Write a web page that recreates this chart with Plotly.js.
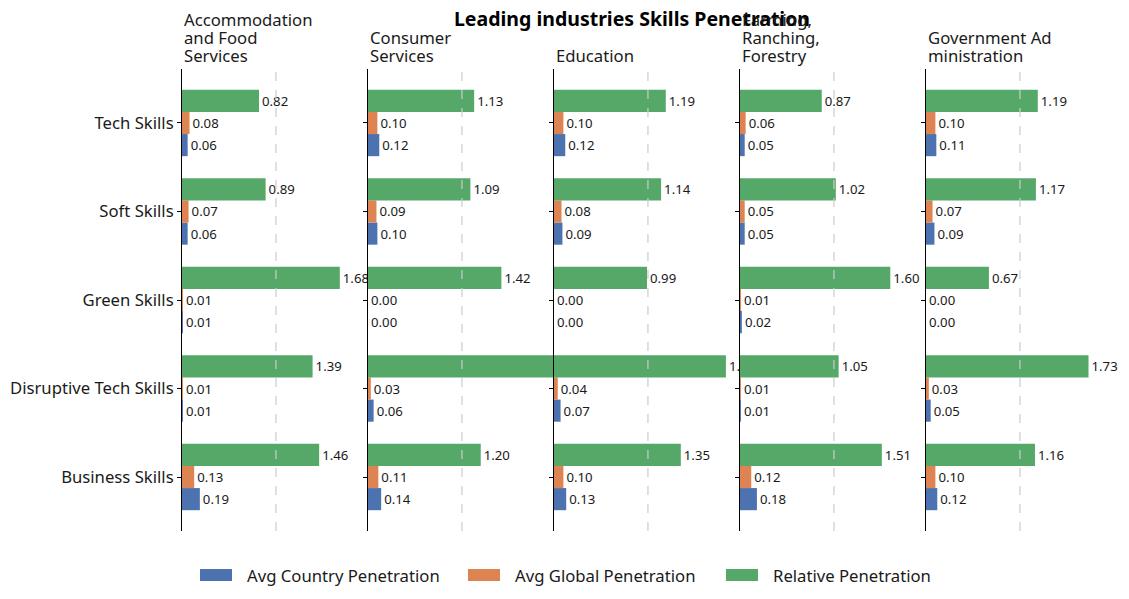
<!DOCTYPE html>
<html>
<head>
<meta charset="utf-8">
<script src="https://cdn.plot.ly/plotly-3.0.1.min.js"></script>
<style>html,body{margin:0;padding:0;background:#fff;}#chart{width:1129px;height:599px;}</style>
</head>
<body>
<div id="chart"></div>
<script>
const categories = ['Tech Skills', 'Soft Skills', 'Green Skills', 'Disruptive Tech Skills', 'Business Skills'];
const industries = ['Accommodation<br>and Food<br>Services', 'Consumer<br>Services', 'Education', 'Farming,<br>Ranching,<br>Forestry', 'Government Ad<br>ministration'];
const seriesNames = ['Avg Country Penetration', 'Avg Global Penetration', 'Relative Penetration'];
const seriesColors = ['#4c72b0', '#dd8452', '#55a868'];

// values per industry, in category order
const avgCountry = [
  [0.06, 0.06, 0.01, 0.01, 0.19],
  [0.12, 0.10, 0.00, 0.06, 0.14],
  [0.12, 0.09, 0.00, 0.07, 0.13],
  [0.05, 0.05, 0.02, 0.01, 0.18],
  [0.11, 0.09, 0.00, 0.05, 0.12]
];
const avgGlobal = [
  [0.08, 0.07, 0.01, 0.01, 0.13],
  [0.10, 0.09, 0.00, 0.03, 0.11],
  [0.10, 0.08, 0.00, 0.04, 0.10],
  [0.06, 0.05, 0.01, 0.01, 0.12],
  [0.10, 0.07, 0.00, 0.03, 0.10]
];
const relative = [
  [0.82, 0.89, 1.68, 1.39, 1.46],
  [1.13, 1.09, 1.42, 2.20, 1.20],
  [1.19, 1.14, 0.99, 1.83, 1.35],
  [0.87, 1.02, 1.60, 1.05, 1.51],
  [1.19, 1.17, 0.67, 1.73, 1.16]
];
const xMax = 1.98;
const refLine = 1.0;

const FONT = 'Noto Sans, Open Sans, sans-serif';
const TXT = '#1a1a1a';
const series = [avgCountry, avgGlobal, relative];
const traces = [];
const L = 182, R = 17, T = 69, B = 68, W = 1129, H = 599;
const plotW = W - L - R, plotH = H - T - B;
const px2x = p => (p - L) / plotW;
const px2y = p => (H - B - p) / plotH;

const layout = {
  width: W, height: H,
  margin: {l: L, r: R, t: T, b: B},
  paper_bgcolor: '#fff', plot_bgcolor: 'rgba(0,0,0,0)',
  font: {family: FONT, color: TXT, size: 13},
  barmode: 'group', bargap: 0.25, bargroupgap: 0,
  title: {text: '<b>Leading industries Skills Penetration</b>', x: 632 / W, xref: 'container', xanchor: 'center',
          y: 1 - 19 / H, yref: 'container', yanchor: 'middle', font: {size: 19.5, family: FONT, color: '#000', weight: 'bold'}},
  showlegend: false,
  annotations: [], shapes: []
};

const n = industries.length;
const titleLastLine = 56, titleLinePitch = 18.5;
industries.forEach((ind, i) => {
  const sfx = i === 0 ? '' : String(i + 1);
  const d0 = i / n, d1 = (i + 1) / n;
  layout['xaxis' + sfx] = {domain: [d0, d1], range: [0, xMax], anchor: 'y' + sfx,
    showgrid: false, zeroline: false, showline: false, showticklabels: false, ticks: ''};
  layout['yaxis' + sfx] = {anchor: 'x' + sfx, type: 'category', categoryorder: 'array',
    categoryarray: categories.slice().reverse(), range: [-0.61, categories.length - 0.39],
    showline: true, linecolor: '#000', linewidth: 1, showgrid: false, zeroline: false,
    ticks: 'outside', ticklen: 4, tickcolor: '#000', showticklabels: i === 0,
    tickfont: {size: 16.7, family: FONT, color: TXT}};
  series.forEach((s, k) => {
    traces.push({
      type: 'bar', orientation: 'h', name: seriesNames[k],
      x: s[i], y: categories, xaxis: 'x' + sfx, yaxis: 'y' + sfx,
      marker: {color: seriesColors[k], line: {width: 0}},
      texttemplate: '%{x:.2f}', textposition: 'outside', cliponaxis: i < n - 1, constraintext: 'none',
      textfont: {size: 13.2, family: FONT, color: TXT}, hoverinfo: 'x+y'
    });
  });
  layout.shapes.push({type: 'line', xref: 'x' + sfx, yref: 'y' + sfx + ' domain', x0: refLine, x1: refLine, y0: 0, y1: 1,
    line: {color: '#cccccc', width: 1.2, dash: 'dash'}, layer: 'above'});
  const lines = ind.split('<br>');
  lines.forEach((ln, j) => {
    const yPix = titleLastLine - (lines.length - 1 - j) * titleLinePitch;
    layout.annotations.push({text: ln, xref: 'paper', yref: 'paper', x: d0, y: px2y(yPix), xanchor: 'left', yanchor: 'middle',
      xshift: 0, align: 'left', showarrow: false, font: {size: 16.7, family: FONT, color: TXT}});
  });
});

// manual legend (wide patches like the reference)
const legendX = [200, 468, 726];
const legendY = 575;
seriesNames.forEach((name, k) => {
  layout.shapes.push({type: 'rect', xref: 'paper', yref: 'paper',
    x0: px2x(legendX[k]), x1: px2x(legendX[k] + 32), y0: px2y(legendY + 6), y1: px2y(legendY - 6),
    fillcolor: seriesColors[k], line: {width: 0}, layer: 'above'});
  layout.annotations.push({text: name, xref: 'paper', yref: 'paper', x: px2x(legendX[k] + 45), y: px2y(legendY),
    xanchor: 'left', yanchor: 'middle', showarrow: false, font: {size: 16.7, family: FONT, color: TXT}});
});

Plotly.newPlot('chart', traces, layout, {displayModeBar: false, staticPlot: true});
</script>
</body>
</html>
